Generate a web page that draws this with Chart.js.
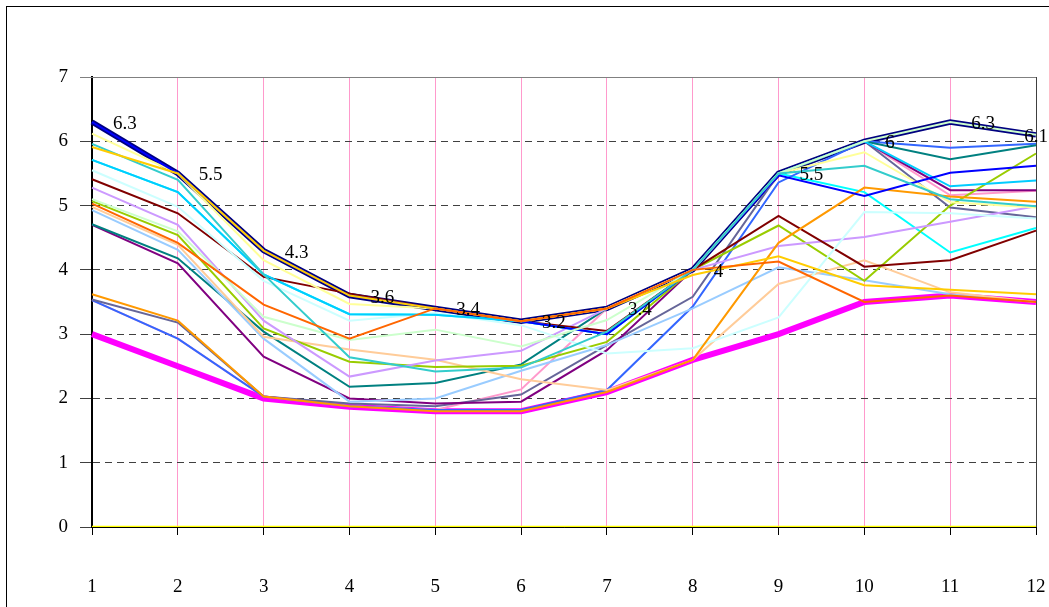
<!DOCTYPE html>
<html>
<head>
<meta charset="utf-8">
<script src="https://cdn.jsdelivr.net/npm/chart.js@4/dist/chart.umd.min.js"></script>
<style>
  html, body { margin: 0; padding: 0; background: #fff; overflow: hidden; }
  #frame { position: absolute; left: 6px; top: 6px; width: 1100px; height: 700px; border: 1px solid #000; }
  #chart { position: absolute; left: 0; top: 0; }
</style>
</head>
<body>
<div id="frame"></div>
<canvas id="chart" width="1049" height="607"></canvas>
<script>
// months 1..12
const months = ['1','2','3','4','5','6','7','8','9','10','11','12'];

// envelope lines (drawn thick, under the others)
const maxLine = [6.3, 5.5, 4.3, 3.6, 3.4, 3.2, 3.4, 4.0, 5.5, 6.0, 6.3, 6.1];
const minLine = [3.0, 2.5, 2.0, 1.87, 1.8, 1.8, 2.1, 2.6, 3.0, 3.5, 3.6, 3.5];
const zeroLine = [0, 0, 0, 0, 0, 0, 0, 0, 0, 0, 0, 0];

// individual series
const orangeRed   = [5.03, 4.42, 3.46, 2.93, 3.4, 3.2, 3.4, 4.0, 4.13, 3.5, 3.6, 3.5];
const gold        = [5.91, 5.5, 4.3, 3.6, 3.4, 3.2, 3.4, 3.92, 4.21, 3.76, 3.69, 3.62];
const teal        = [5.96, 5.4, 3.93, 2.64, 2.42, 2.48, 3.04, 4.0, 5.5, 5.62, 5.1, 4.99];
const lightGreen  = [5.1, 4.6, 3.27, 2.91, 3.07, 2.81, 3.22, 4.0, 5.5, 6.0, 6.3, 6.1];
const blue        = [6.3, 5.5, 4.3, 3.6, 3.4, 3.2, 3.0, 4.0, 5.47, 5.15, 5.51, 5.62];
const lightYellow = [6.12, 5.5, 4.15, 3.47, 3.4, 3.2, 3.4, 4.0, 5.5, 5.83, 5.05, 4.97];
const skyBlue     = [5.71, 5.21, 3.93, 3.31, 3.3, 3.2, 3.0, 4.0, 5.5, 6.0, 5.3, 5.39];
const lightCyan   = [5.55, 4.98, 3.83, 3.21, 3.33, 3.14, 2.7, 2.78, 3.26, 4.9, 4.88, 4.8];
const maroon      = [5.41, 4.88, 3.89, 3.63, 3.4, 3.2, 3.05, 4.0, 4.84, 4.05, 4.15, 4.61];
const lavender    = [5.28, 4.7, 3.21, 2.34, 2.59, 2.74, 3.4, 4.0, 4.37, 4.51, 4.75, 4.99];
const yellowGreen = [5.07, 4.54, 3.09, 2.57, 2.49, 2.51, 2.88, 4.0, 4.69, 3.83, 5.0, 5.81];
const peach       = [4.98, 4.39, 2.96, 2.76, 2.6, 2.3, 2.13, 2.6, 3.78, 4.15, 3.65, 3.5];
const lightBlue   = [4.93, 4.31, 2.93, 1.95, 2.0, 2.43, 2.83, 3.4, 4.04, 3.84, 3.62, 3.5];
const darkTeal    = [4.71, 4.18, 3.04, 2.18, 2.24, 2.53, 3.4, 4.0, 5.5, 6.0, 5.72, 5.94];
const purple      = [4.7, 4.1, 2.65, 2.0, 1.92, 1.95, 2.75, 4.0, 5.5, 6.0, 5.24, 5.24];
const orange      = [3.62, 3.21, 2.03, 1.88, 1.8, 1.8, 2.1, 2.6, 4.42, 5.28, 5.14, 5.06];
const grayBlue    = [3.54, 3.18, 2.03, 1.92, 1.88, 2.06, 2.83, 3.58, 5.49, 6.0, 4.97, 4.82];
const royalBlue   = [3.53, 2.93, 2.03, 1.88, 1.82, 1.82, 2.13, 3.43, 5.36, 6.0, 5.9, 5.96];
const pink        = [3.53, 2.93, 2.03, 1.88, 1.82, 2.14, 3.4, 4.0, 5.5, 6.0, 5.16, 5.23];
const cyan        = [5.71, 5.21, 3.93, 3.31, 3.3, 3.2, 3.0, 4.0, 5.5, 5.21, 4.27, 4.65];

function line(data, color, width, order) {
    return {
        data: data,
        borderColor: color,
        borderWidth: width || 2,
        pointRadius: 0,
        tension: 0,
        fill: false,
        order: order || 0
    };
}

// value labels on the max line, right of each point
const maxLabels = {
    id: 'maxLabels',
    afterDatasetsDraw(chart) {
        const ctx = chart.ctx;
        const meta = chart.getDatasetMeta(0);
        ctx.save();
        ctx.font = '19px "Liberation Serif"';
        ctx.fillStyle = '#000';
        ctx.textAlign = 'left';
        ctx.textBaseline = 'middle';
        meta.data.forEach(function (pt, i) {
            const txt = String(maxLine[i]);
            const w = ctx.measureText(txt).width;
            let x = pt.x + 21;
            if (x + w > chart.width - 1) {
                x = chart.width - w - 1;
            }
            ctx.fillText(txt, x, pt.y + 2);
        });
        ctx.restore();
    }
};

// solid top edge of the plot area at 7
const topEdge = {
    id: 'topEdge',
    beforeDatasetsDraw(chart) {
        const a = chart.chartArea;
        const ctx = chart.ctx;
        ctx.save();
        ctx.strokeStyle = '#808080';
        ctx.lineWidth = 1;
        ctx.beginPath();
        ctx.moveTo(a.left - 12, a.top + 0.5);
        ctx.lineTo(a.right, a.top + 0.5);
        ctx.stroke();
        ctx.restore();
    }
};

new Chart(document.getElementById('chart'), {
    type: 'line',
    data: {
        labels: months,
        datasets: [
            line(maxLine, '#000080', 5.5, 10),
            line(minLine, '#ff00ff', 6, 10),
            line(orangeRed, '#ff6600'),
            line(gold, '#ffcc00'),
            line(teal, '#33cccc'),
            line(lightGreen, '#ccffcc'),
            line(blue, '#0000ff'),
            line(orange, '#ff9900'),
            line(lightYellow, '#ffff99'),
            line(skyBlue, '#00ccff'),
            line(lightCyan, '#ccffff'),
            line(maroon, '#800000'),
            line(lavender, '#cc99ff'),
            line(yellowGreen, '#99cc00'),
            line(peach, '#ffcc99'),
            line(lightBlue, '#99ccff'),
            line(darkTeal, '#008080'),
            line(purple, '#800080'),
            line(grayBlue, '#666699'),
            line(royalBlue, '#3366ff'),
            line(pink, '#ff99cc'),
            line(cyan, '#00ffff'),
            line(zeroLine, '#ffff00', 2.5)
        ]
    },
    options: {
        responsive: false,
        animation: false,
        events: [],
        layout: {
            autoPadding: false,
            padding: { left: 0, right: 13, top: 77, bottom: 0 }
        },
        scales: {
            x: {
                offset: false,
                afterFit: function (scale) {
                    scale.height = 80;
                    // the big label gap must not eat into the plot width
                    scale.paddingLeft = 0;
                    scale.paddingRight = 0;
                },
                grid: {
                    color: function (c) { return c.index === 11 ? '#404040' : '#ff99cc'; },
                    tickColor: '#000',
                    tickLength: 8,
                    lineWidth: 1
                },
                border: { color: '#000', width: 1 },
                ticks: {
                    padding: 41,
                    color: '#000',
                    maxRotation: 0,
                    font: { family: 'Liberation Serif', size: 19 }
                }
            },
            y: {
                min: 0,
                max: 7,
                afterFit: function (scale) {
                    scale.width = 92;
                    scale.paddingTop = 0;
                    scale.paddingBottom = 0;
                },
                grid: {
                    color: '#404040',
                    tickColor: '#404040',
                    tickLength: 12,
                    lineWidth: 1
                },
                border: { color: '#000', width: 2, dash: [7, 5] },
                ticks: {
                    stepSize: 1,
                    padding: 12,
                    color: '#000',
                    font: { family: 'Liberation Serif', size: 19 }
                }
            }
        },
        plugins: {
            legend: { display: false },
            title: { display: false },
            tooltip: { enabled: false }
        }
    },
    plugins: [topEdge, maxLabels]
});
</script>
</body>
</html>
